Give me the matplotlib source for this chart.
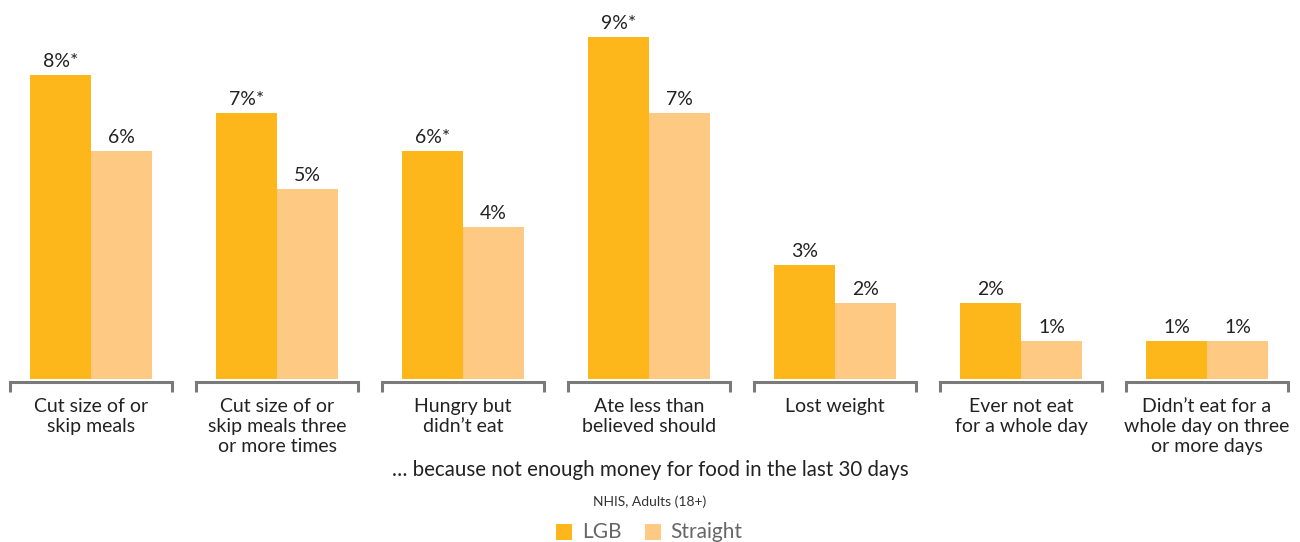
import matplotlib
matplotlib.use("Agg")
import matplotlib.pyplot as plt
from matplotlib.patches import Rectangle
import numpy as np

categories = ["Cut size of or\nskip meals",
              "Cut size of or\nskip meals three\nor more times",
              "Hungry but\ndidn\u2019t eat",
              "Ate less than\nbelieved should",
              "Lost weight",
              "Ever not eat\nfor a whole day",
              "Didn\u2019t eat for a\nwhole day on three\nor more days"]
lgb = [8, 7, 6, 9, 3, 2, 1]
straight = [6, 5, 4, 7, 2, 1, 1]
lgb_labels = ["8%*", "7%*", "6%*", "9%*", "3%", "2%", "1%"]
straight_labels = ["6%", "5%", "4%", "7%", "2%", "1%", "1%"]
series_names = ["LGB", "Straight"]
subtitle = "\u2026 because not enough money for food in the last 30 days"
source = "NHIS, Adults (18+)"

c_lgb = "#FDB71A"
c_str = "#FEC982"
plt.rcParams['font.family'] = ['Lato', 'DejaVu Sans']

W, H = 1300, 542
fig = plt.figure(figsize=(W/100, H/100), dpi=100)
ax = fig.add_axes([0, 0, 1, 1])
ppu_x = 186.0
x0 = 91.0
ax.set_xlim(-x0/ppu_x, (W - x0)/ppu_x)
ppu_y = 38.0
base = 379.0
ax.set_ylim(-(H - base)/ppu_y, base/ppu_y)
ax.axis("off")

x = np.arange(len(categories))
bw = 61/ppu_x
ax.bar(x - bw/2, lgb, bw, color=c_lgb, linewidth=0)
ax.bar(x + bw/2, straight, bw, color=c_str, linewidth=0)

def py(p):  # pixel-from-top to data y
    return (base - p)/ppu_y

for i in range(len(categories)):
    ax.text(x[i] - bw/2, lgb[i] + 13.5/ppu_y, lgb_labels[i], ha="center", va="center",
            fontsize=14, color="#222222")
    ax.text(x[i] + bw/2, straight[i] + 13.5/ppu_y, straight_labels[i], ha="center", va="center",
            fontsize=14, color="#222222")
    hw = 81/ppu_x
    ax.plot([x[i]-hw, x[i]-hw, x[i]+hw, x[i]+hw], [py(392), py(381.5), py(381.5), py(392)],
            color="#7a7a7a", lw=2.2, solid_capstyle="butt", solid_joinstyle="miter")
    ax.text(x[i], py(398), categories[i], ha="center", va="top", fontsize=14,
            color="#222222", linespacing=1.2)

ax.text(0.5, 1 - 470/H, subtitle, transform=ax.transAxes, ha="center", va="center",
        fontsize=14.8, color="#222222")
ax.text(0.5, 1 - 502/H, source, transform=ax.transAxes, ha="center", va="center",
        fontsize=10, color="#333333")

# legend drawn in figure pixel space
def fx(p): return p / W
def fy(p): return 1 - p / H
for (sx, tx, col, name) in [(556, 582, c_lgb, series_names[0]), (645, 670, c_str, series_names[1])]:
    fig.patches.append(Rectangle((fx(sx), fy(540)), 16/W, 16/H, transform=fig.transFigure,
                                 color=col, lw=0))
    fig.text(fx(tx), fy(532), name, ha="left", va="center", fontsize=15, color="#666666")

fig.savefig("out.png", dpi=100)
